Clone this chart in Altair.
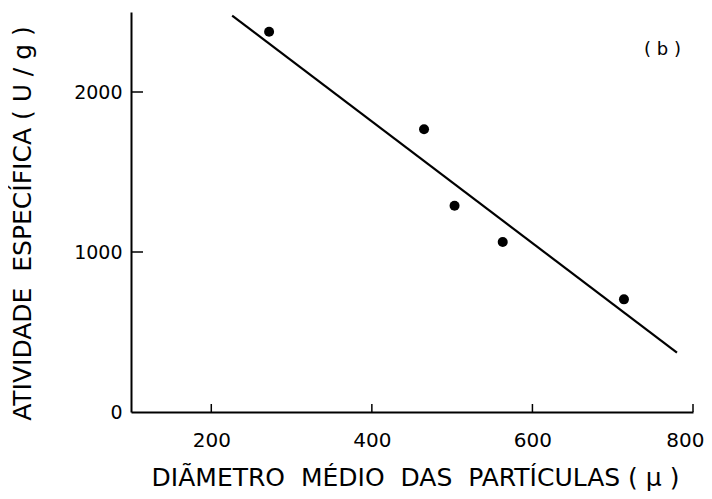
import altair as alt
import pandas as pd

# data
diam = [272, 465, 503, 563, 714]
ativ = [2377, 1767, 1289, 1063, 704]
fit_x = [226, 780]
fit_y = [2478, 371]
x_tick_values = [200, 400, 600, 800]
y_tick_values = [0, 1000, 2000]
x_inner_ticks = [200, 400, 600, 800]
y_inner_ticks = [1000, 2000]
panel_label = "( b )"
label_x = [762]
label_y = [2265]

NB = "\u00a0"
x_title = f"DIÃMETRO{NB} MÉDIO{NB} DAS{NB} PARTÍCULAS ( μ )"
y_title = f"ATIVIDADE{NB} ESPECÍFICA ( U / g )"

pts = pd.DataFrame({"x": diam, "y": ativ})
fit = pd.DataFrame({"x": fit_x, "y": fit_y})
xt = pd.DataFrame({"x": x_inner_ticks})
yt = pd.DataFrame({"y": y_inner_ticks})
lab = pd.DataFrame({"x": label_x, "y": label_y, "t": [panel_label]})

font = "DejaVu Sans"
xscale = alt.Scale(domain=[100, 800], nice=False, zero=False)
yscale = alt.Scale(domain=[0, 2500], nice=False, zero=False)

xaxis = alt.Axis(
    values=x_tick_values, title=x_title, grid=False, ticks=False, format="d",
    domainColor="black", domainWidth=2, labelFlush=False, labelOverlap=False,
    labelFont=font, labelFontSize=20, labelColor="black", labelPadding=18,
    labelAlign={"condition": {"test": "datum.value == 800", "value": "right"}, "value": "center"},
    labelOffset={"condition": {"test": "datum.value == 800", "value": 11}, "value": 0},
    titleFont=font, titleFontSize=25, titleFontWeight="normal", titleColor="black",
    titleX=284, titleY=73, titleBaseline="alphabetic", titleAlign="center",
)
yaxis = alt.Axis(
    values=y_tick_values, title=y_title, grid=False, ticks=False, format="d",
    domainColor="black", domainWidth=2, labelFlush=False, labelOverlap=False,
    labelFont=font, labelFontSize=19, labelColor="black", labelPadding=9,
    titleFont=font, titleFontSize=25, titleFontWeight="normal", titleColor="black",
    titleAngle=270, titleX=-109, titleY=211, titleBaseline="middle", titleAlign="center",
)

X = alt.X("x:Q", scale=xscale, axis=xaxis)
Y = alt.Y("y:Q", scale=yscale, axis=yaxis)

points = alt.Chart(pts).mark_circle(size=100, color="black", opacity=1).encode(x=X, y=Y)
line = alt.Chart(fit).mark_line(color="black", strokeWidth=2.2).encode(x=X, y=Y)
xticks = alt.Chart(xt).mark_rule(color="black", strokeWidth=1.5).encode(
    x=X, y=alt.value(400), y2=alt.value(392))
yticks = alt.Chart(yt).mark_rule(color="black", strokeWidth=1.5).encode(
    y=Y, x=alt.value(0), x2=alt.value(12))
label = alt.Chart(lab).mark_text(font=font, fontSize=18, color="black").encode(
    x=X, y=Y, text="t:N")

chart = alt.layer(line, points, xticks, yticks, label).properties(
    width=562, height=400,
    autosize=alt.AutoSizeParams(type="none"),
    padding={"left": 123, "top": 4, "right": 11, "bottom": 86},
    background="white",
).configure_view(stroke=None)

chart.save("out.html", embed_options={"renderer": "svg", "actions": False})
